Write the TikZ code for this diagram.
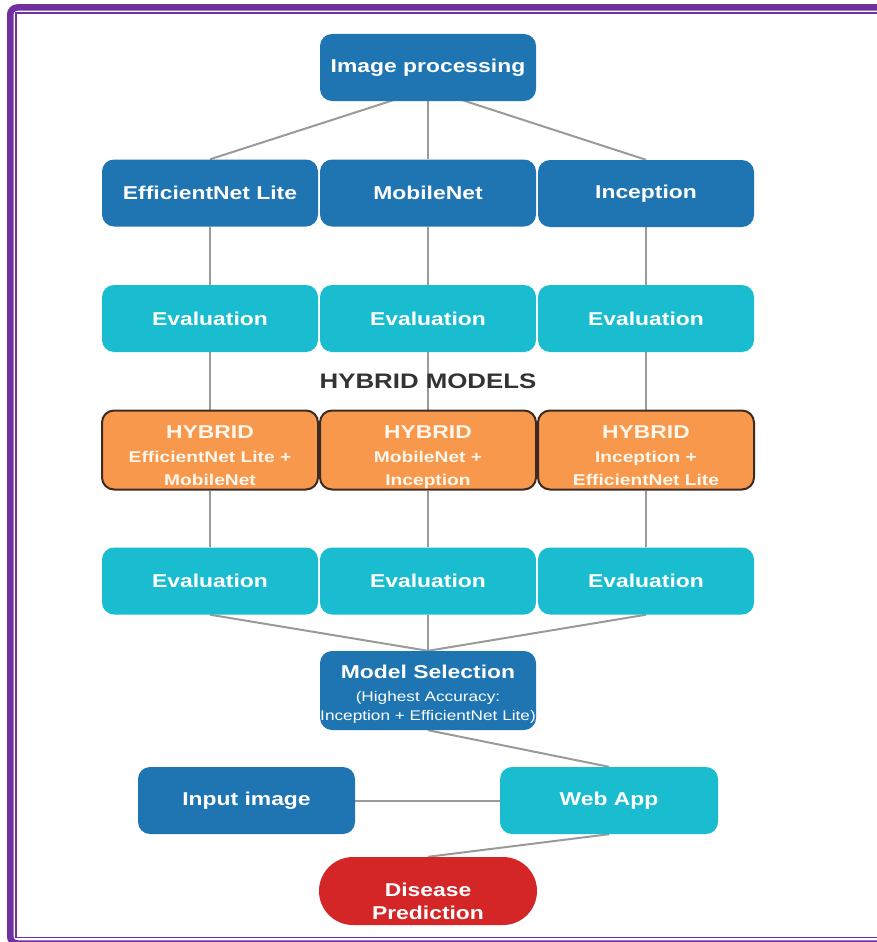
\documentclass[tikz,border=0pt]{standalone}
\usepackage{fontspec}
\setmainfont{Liberation Sans}[FakeStretch=1.23]
\usetikzlibrary{backgrounds}
\definecolor{dblue}{HTML}{1F74B2}
\definecolor{cyanb}{HTML}{19BDCF}
\definecolor{orng}{HTML}{F7984C}
\definecolor{obord}{HTML}{3B2B22}
\definecolor{redb}{HTML}{D42627}
\definecolor{purp}{HTML}{7030A0}
\definecolor{connc}{HTML}{9A9A9A}
\definecolor{hdr}{HTML}{333333}
\definecolor{cream}{HTML}{FFF6EC}
\tikzset{
  box/.style={rectangle, rounded corners=12pt, minimum width=216pt, minimum height=67pt,
    inner sep=0pt, text=white, align=center, font=\fontsize{18.6}{23}\selectfont\bfseries},
  bluebox/.style={box, fill=dblue},
  cyanbox/.style={box, fill=cyanb},
  hylabel/.style={text=cream, align=center, font=\fontsize{15.6}{23.5}\selectfont\bfseries, yshift=-9.5pt},
  hybox/.style={box, fill=orng, draw=obord, line width=2pt, minimum height=79pt,
    minimum width=216pt, label={[hylabel]center:{#1}}},
  mslabel/.style={text=white, align=center, font=\fontsize{18.6}{23}\selectfont\bfseries, yshift=-4pt},
  redbox/.style={box, fill=redb, rounded corners=34pt, minimum width=218pt, minimum height=68pt},
  dplabel/.style={text=white, align=center, font=\fontsize{18.6}{23}\selectfont\bfseries, yshift=-10pt},
  connline/.style={draw=connc, line width=2pt},
  hdrtext/.style={text=hdr, font=\fontsize{21}{25}\selectfont\bfseries, inner sep=0pt},
}
\begin{document}
\begin{tikzpicture}[x=1pt,y=-1pt]
\useasboundingbox (0,0) rectangle (876,942);
% nodes
\node[bluebox] (ip) at (428,67.5) {Image processing};
\node[bluebox] (eff) at (210,193) {EfficientNet Lite};
\node[bluebox] (mob) at (428,193) {MobileNet};
\node[bluebox] (inc) at (646,193.5) {Inception};
\node[cyanbox] (e1a) at (210,318.5) {Evaluation};
\node[cyanbox] (e1b) at (428,318.5) {Evaluation};
\node[cyanbox] (e1c) at (646,318.5) {Evaluation};
\node[hdrtext] (hm) at (428,381) {HYBRID MODELS};
\node[hybox={{\fontsize{18.6}{23.5}\selectfont HYBRID}\\EfficientNet Lite +\\MobileNet\strut}] (h1) at (210,450) {};
\node[hybox={{\fontsize{18.6}{23.5}\selectfont HYBRID}\\MobileNet +\\Inception\strut}] (h2) at (428,450) {};
\node[hybox={{\fontsize{18.6}{23.5}\selectfont HYBRID}\\Inception +\\EfficientNet Lite\strut}] (h3) at (646,450) {};
\node[cyanbox] (e2a) at (210,581) {Evaluation};
\node[cyanbox] (e2b) at (428,581) {Evaluation};
\node[cyanbox] (e2c) at (646,581) {Evaluation};
\node[bluebox, minimum height=79pt,
  label={[mslabel]center:{Model Selection\\{\fontsize{14}{19}\selectfont\mdseries (Highest Accuracy:}\\[-4pt]{\fontsize{14}{19}\selectfont\mdseries Inception + EfficientNet Lite)}}}] (ms) at (428,690.5) {};
\node[bluebox, minimum width=217pt] (inp) at (246.5,800.5) {Input image};
\node[cyanbox, minimum width=218pt] (wa) at (609,800.5) {Web App};
\node[redbox, label={[dplabel]center:{Disease\\Prediction}}] (dp) at (428,891) {};
\coordinate (ipj) at (428,89);
% connectors and frame
\begin{scope}[on background layer]
  \fill[white] (0,0) rectangle (876,942);
  \draw[purp, line width=6.5pt, rounded corners=7pt] (10.25,7.5) rectangle (900,943.5);
  \draw[purp, line width=1.8pt] (16,13) rectangle (900,937.5);
  \draw[connline] (ipj) -- (eff.north);
  \draw[connline] (ip.south) -- (mob.north);
  \draw[connline] (ipj) -- (inc.north);
  \foreach \a/\b in {eff/e1a, mob/e1b, inc/e1c, e1a/h1, e1b/h2, e1c/h3, h1/e2a, h2/e2b, h3/e2c}
    \draw[connline] (\a.south) -- (\b.north);
  \draw[connline] (e2a.south) -- (ms.north);
  \draw[connline] (e2b.south) -- (ms.north);
  \draw[connline] (e2c.south) -- (ms.north);
  \draw[connline] (ms.south) -- (wa.north);
  \draw[connline] (inp.east) -- (wa.west);
  \draw[connline] (wa.south) -- (dp.north);
\end{scope}
\end{tikzpicture}
\end{document}
